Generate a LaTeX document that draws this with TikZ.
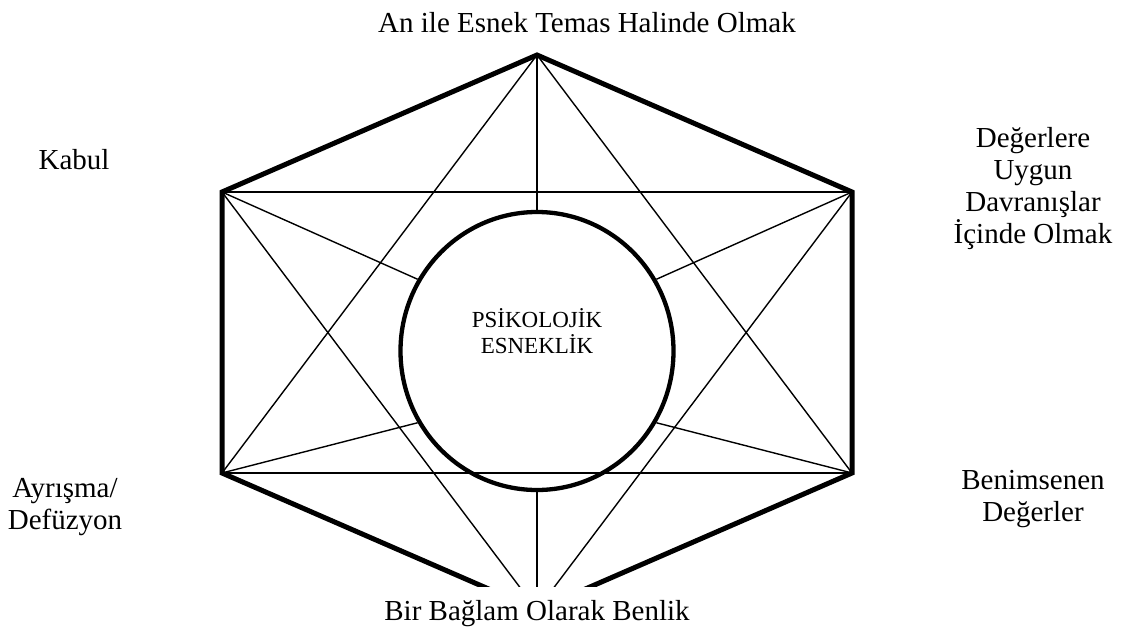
\documentclass[tikz,border=0pt]{standalone}
\usepackage{fontspec}
\setmainfont{Liberation Serif}
\usetikzlibrary{shapes.geometric,positioning}

\begin{document}
\begin{tikzpicture}[x=1pt,y=-1pt,
  every node/.style={font=\fontsize{29}{32}\selectfont},
  lb/.style={align=center,inner sep=0pt},
  rim/.style={line width=5pt,line join=miter},
  sp/.style={line width=1.4pt},
  cr/.style={draw,ellipse,line width=4.3pt,minimum width=273pt,minimum height=278pt,inner sep=0pt}
]
\useasboundingbox (0,0) rectangle (1121,632);
% hexagon corners
\coordinate (top) at (537,55);
\coordinate (ur) at (852,192);
\coordinate (lr) at (852,473);
\coordinate (bot) at (537,610);
\coordinate (ll) at (222,473);
\coordinate (ul) at (222,192);
\node[cr] (core) at (537,351) {};
\node[lb,font=\fontsize{23}{25.5}\selectfont] (ctext) at (537,331) {PSİKOLOJİK\\ESNEKLİK};
% star and spokes
\foreach \a/\b in {ul/ur,ll/lr,top/ll,top/lr,bot/ul,bot/ur}
  \draw[sp] (\a) -- (\b);
\foreach \a/\b in {top/90,ur/31,lr/-31,bot/-90,ll/-149,ul/149}
  \draw[sp] (\a) -- (core.\b);
\draw[rim] (top) -- (ur) -- (lr) -- (bot) -- (ll) -- (ul) -- cycle;
% labels
\node[lb,anchor=base west] (lbtop) at (378,32) {An ile Esnek Temas Halinde Olmak};
\node[lb,anchor=base] (lbkabul) at (74,169) {Kabul};
\node[lb] (lbvalue) at (1033,189) {Değerlere\\Uygun\\Davranışlar\\İçinde Olmak};
\node[lb] (lbdefuse) at (65,507) {Ayrışma/\\Defüzyon};
\node[lb] (lbcommit) at (1033,499) {Benimsenen\\Değerler};
\node[lb,anchor=base,fill=white,inner ysep=13pt] (lbself) at (537,620) {Bir Bağlam Olarak Benlik};
\end{tikzpicture}
\end{document}
